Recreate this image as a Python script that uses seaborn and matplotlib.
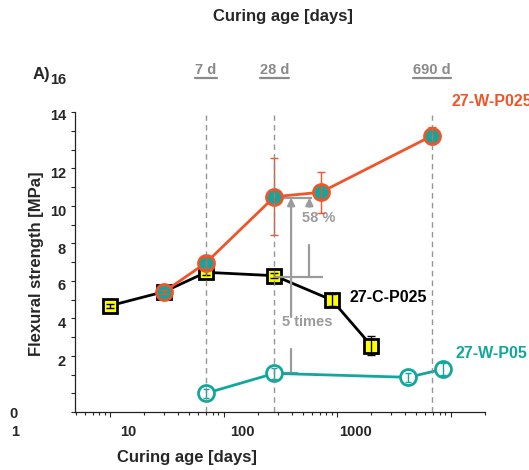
import numpy as np
import pandas as pd
import matplotlib
matplotlib.use("Agg")
import matplotlib.pyplot as plt
import matplotlib.transforms as mtransforms
from matplotlib.lines import Line2D
from matplotlib.ticker import LogLocator, NullFormatter, FixedLocator, MultipleLocator
import seaborn as sns

# ---------------- data ----------------
c_days = [1, 3, 7, 28, 90, 200]
c_strength = [5.67, 6.42, 7.45, 7.27, 5.97, 3.54]
c_err = [0.1, 0.1, 0.12, 0.12, 0.3, 0.49]

w025_days = [3, 7, 28, 72, 690]
w025_strength = [6.42, 7.96, 11.48, 11.72, 14.74]
w025_err = [0.1, 0.3, 2.05, 1.1, 0.45]

w05_days = [7, 28, 425, 860]
w05_strength = [1.0, 2.06, 1.85, 2.29]
w05_err = [0.25, 0.3, 0.25, 0.32]

ref_days = [7, 28, 690]
ref_labels = ["7 d", "28 d", "690 d"]

xtick_vals = [1, 10, 100, 1000]
xtick_labels = ["1", "10", "100", "1000"]
ytick_vals = [0, 2, 4, 6, 8, 10, 12, 14, 16]
ytick_labels = ["0", "2", "4", "6", "8", "10", "12", "14", "16"]

series_names = ["27-W-P025", "27-C-P025", "27-W-P05"]

# ---------------- style ----------------
sns.set_style("ticks")
plt.rcParams["font.family"] = ["Liberation Sans", "DejaVu Sans"]
plt.rcParams["font.weight"] = "bold"

ORANGE = "#F0552A"
TEAL = "#12A79D"
YELLOW = "#FFFF00"
GRAY = "#9B9B9B"
DGRAY = "#8A8A8A"

fig = plt.figure(figsize=(5.29, 4.70), dpi=100)
ax = fig.add_axes([75 / 529, 58 / 470, 410 / 529, 300 / 470])
ax.set_xscale("log")
ax.set_xlim(0.49, 2010)
ax.set_ylim(0, 16)

# reference dashed lines
ax.vlines(ref_days, 0, 15.85, colors=DGRAY, linestyles=(0, (4, 3)), linewidth=1, zorder=6, alpha=0.9)

df_c = pd.DataFrame({"days": c_days, "strength": c_strength})
df_w025 = pd.DataFrame({"days": w025_days, "strength": w025_strength})
df_w05 = pd.DataFrame({"days": w05_days, "strength": w05_strength})

# 27-C-P025 (black line, yellow squares)
ax.errorbar(c_days, c_strength, yerr=c_err, fmt="none", ecolor="black", elinewidth=1, capsize=3, zorder=3)
sns.lineplot(data=df_c, x="days", y="strength", ax=ax, color="black", linewidth=2,
             marker="s", markersize=9.5, markerfacecolor=YELLOW, markeredgecolor="black",
             markeredgewidth=2, sort=False, estimator=None, legend=False, zorder=2)

# 27-W-P025 (orange line, teal filled circles)
sns.lineplot(data=df_w025, x="days", y="strength", ax=ax, color=ORANGE, linewidth=2,
             marker="o", markersize=11.5, markerfacecolor=TEAL, markeredgecolor=ORANGE,
             markeredgewidth=2, sort=False, estimator=None, legend=False, zorder=4)
ax.errorbar(w025_days, w025_strength, yerr=w025_err, fmt="none", ecolor=ORANGE, elinewidth=1, capsize=3, zorder=5)

# 27-W-P05 (teal line, open circles)
sns.lineplot(data=df_w05, x="days", y="strength", ax=ax, color=TEAL, linewidth=2,
             marker="o", markersize=11.5, markerfacecolor="white", markeredgecolor=TEAL,
             markeredgewidth=2, sort=False, estimator=None, legend=False, zorder=4)
ax.errorbar(w05_days, w05_strength, yerr=w05_err, fmt="none", ecolor=TEAL, elinewidth=1, capsize=2.5, zorder=5)

# ---------------- annotations ----------------
ax.hlines([11.43, 7.22, 2.06], [28, 28, 28], [59.8, 75, 45], colors=GRAY, linewidth=1.6, zorder=3)
# 5 times arrow
ax.plot([39.3, 39.3], [2.06, 3.36], color=GRAY, lw=1.6, zorder=3)
ax.annotate("", xy=(39.3, 11.43), xytext=(39.3, 5.07),
            arrowprops=dict(arrowstyle="-|>", color=GRAY, lw=1.6, mutation_scale=11, shrinkA=0, shrinkB=0), zorder=3)
ax.text(54.4, 4.8, "5 times", color=GRAY, fontsize=10.5, fontweight="bold", ha="center", va="center")
# 58 % arrow
ax.plot([57, 57], [7.22, 8.9], color=GRAY, lw=1.6, zorder=3)
ax.annotate("", xy=(57, 11.43), xytext=(57, 10.95),
            arrowprops=dict(arrowstyle="-|>", color=GRAY, lw=1.6, mutation_scale=11, shrinkA=0, shrinkB=0), zorder=3)
ax.text(69.4, 10.35, "58 %", color=GRAY, fontsize=10.5, fontweight="bold", ha="center", va="center")

# series labels
fig.text(452 / 529, 1 - 101 / 470, series_names[0], color=ORANGE, fontsize=11.5, fontweight="bold", ha="left", va="center")
fig.text(350 / 529, 1 - 297 / 470, series_names[1], color="black", fontsize=11.5, fontweight="bold", ha="left", va="center")
fig.text(455 / 529, 1 - 353 / 470, series_names[2], color=TEAL, fontsize=11.5, fontweight="bold", ha="left", va="center")

# top labels
ref_texts = []
for d, lab in zip(ref_days, ref_labels):
    t = ax.text(d, 18.24, lab, color=DGRAY, fontsize=10.5, fontweight="bold", ha="center", va="center", clip_on=False)
    ref_texts.append(t)
fig.text(283 / 529, 1 - 16 / 470, "Curing age [days]", fontsize=12, fontweight="bold", ha="center", va="center")
fig.text(33 / 529, 1 - 74 / 470, "A)", fontsize=12, fontweight="bold", ha="left", va="center")

# ---------------- axes / ticks ----------------
ax.set_xlabel("Curing age [days]", fontsize=12, fontweight="bold")
ax.set_ylabel("Flexural strength [MPa]", fontsize=12, fontweight="bold")
ax.xaxis.set_label_coords(0.272, -0.153)
ax.xaxis.label.set_verticalalignment("center")
ax.yaxis.set_label_coords(-0.093, 0.493)
ax.yaxis.label.set_verticalalignment("center")
sns.despine(ax=ax)
for s in ["left", "bottom"]:
    ax.spines[s].set_linewidth(0.9)
    ax.spines[s].set_color("#222222")

ax.xaxis.set_major_locator(FixedLocator(xtick_vals))
ax.set_xticklabels(xtick_labels)
ax.xaxis.set_minor_locator(LogLocator(base=10, subs=np.arange(2, 10)))
ax.xaxis.set_minor_formatter(NullFormatter())
ax.set_yticks(ytick_vals)
ax.set_yticklabels(ytick_labels)
ax.yaxis.set_minor_locator(MultipleLocator(1))
ax.tick_params(axis="x", which="major", length=3.6, width=0.8, labelsize=10.5, direction="out")
ax.tick_params(axis="x", which="minor", length=2.2, width=0.8, direction="out")
ax.tick_params(axis="y", which="both", length=2.9, width=0.8, labelsize=10.5, direction="out")

def shift(lbl, dx_px, dy_px):
    off = mtransforms.ScaledTranslation(dx_px / 100, dy_px / 100, fig.dpi_scale_trans)
    lbl.set_transform(lbl.get_transform() + off)

y_shifts = {"0": (-48, 0), "2": (0, 14.5), "4": (0, 15), "6": (0, 14.5), "8": (0, 14),
            "10": (0, 13.6), "12": (0, 14), "14": (0, 35.5), "16": (0, 34)}
for lbl in ax.get_yticklabels():
    dx, dy = y_shifts.get(lbl.get_text(), (0, 0))
    shift(lbl, dx, dy)
for lbl in ax.get_xticklabels():
    shift(lbl, -95, -3)

# underline the top reference labels
fig.canvas.draw()
renderer = fig.canvas.get_renderer()
for t in ref_texts:
    bb = t.get_window_extent(renderer)
    y = bb.y0 - 1
    fig.add_artist(Line2D([bb.x0 / fig.bbox.width, bb.x1 / fig.bbox.width],
                          [y / fig.bbox.height, y / fig.bbox.height],
                          color=DGRAY, linewidth=1.6, transform=fig.transFigure))

fig.savefig("out.png", dpi=100)
